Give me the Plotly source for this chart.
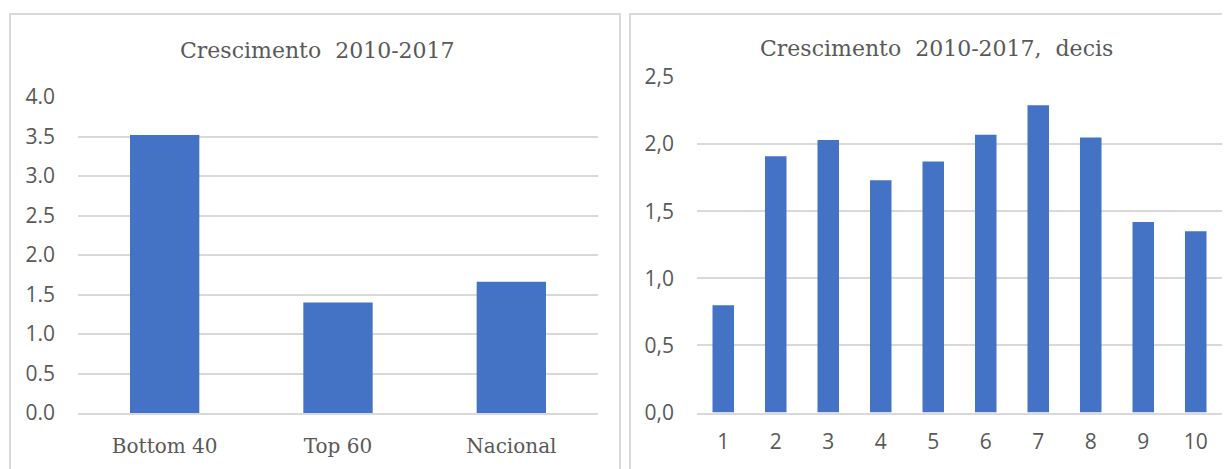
import plotly.graph_objects as go

# Dados
grupos = ["Bottom 40", "Top 60", "Nacional"]
cresc_grupos = [3.52, 1.40, 1.66]

decis = ["1", "2", "3", "4", "5", "6", "7", "8", "9", "10"]
cresc_decis = [0.80, 1.91, 2.03, 1.73, 1.87, 2.07, 2.29, 2.05, 1.42, 1.35]

ticks_esq = [0, 0.5, 1, 1.5, 2, 2.5, 3, 3.5, 4]
ticks_esq_txt = ["0.0", "0.5", "1.0", "1.5", "2.0", "2.5", "3.0", "3.5", "4.0"]
ticks_dir = [0, 0.5, 1, 1.5, 2, 2.5]
ticks_dir_txt = ["0,0", "0,5", "1,0", "1,5", "2,0", "2,5"]

W, H = 1230, 469
OFF = 8  # margem por defeito do <body> na página gerada
AZUL = "#4472C4"
CINZA_TXT = "#595959"
CINZA_GRID = "#d9d9d9"


# píxeis da imagem -> coordenadas "paper"
def fx(px):
    return (px - OFF) / W


def fy(py):
    return (H - (py - OFF)) / H


fig = go.Figure()

fig.add_trace(go.Bar(x=grupos, y=cresc_grupos, marker=dict(color=AZUL, line=dict(width=0)),
                     width=0.4, xaxis="x", yaxis="y", hoverinfo="x+y"))
fig.add_trace(go.Bar(x=decis, y=cresc_decis, marker=dict(color=AZUL, line=dict(width=0)),
                     width=0.41, xaxis="x2", yaxis="y2", hoverinfo="x+y"))

# Eixos comuns
eixo_y = dict(showline=False, zeroline=False, showgrid=True, gridcolor=CINZA_GRID, gridwidth=1.5,
              automargin=False,
              tickfont=dict(family="Open Sans", size=21, color=CINZA_TXT), ticklabelstandoff=22)
eixo_x = dict(showline=True, linecolor=CINZA_GRID, linewidth=1.5, showgrid=False, zeroline=False,
              automargin=False, ticks="")

fig.update_layout(
    width=W, height=H,
    margin=dict(l=0, r=0, t=0, b=0),
    plot_bgcolor="white", paper_bgcolor="white",
    showlegend=False,
    xaxis=dict(domain=[fx(78), fx(598)], anchor="y", ticklabelstandoff=14,
               tickfont=dict(family="DejaVu Serif", size=20, color=CINZA_TXT), **eixo_x),
    yaxis=dict(domain=[fy(413), fy(97)], anchor="x", range=[0, 4],
               tickvals=ticks_esq, ticktext=ticks_esq_txt, **eixo_y),
    xaxis2=dict(domain=[fx(697), fx(1222)], anchor="y2", ticklabelstandoff=10,
                tickfont=dict(family="Open Sans", size=21, color=CINZA_TXT), **eixo_x),
    yaxis2=dict(domain=[fy(412.5), fy(77)], anchor="x2", range=[0, 2.5],
                tickvals=ticks_dir, ticktext=ticks_dir_txt, **eixo_y),
)

# Títulos
fig.add_annotation(text="Crescimento  2010-2017", x=fx(317), y=fy(51),
                   xref="paper", yref="paper", xanchor="center", yanchor="middle", showarrow=False,
                   font=dict(family="DejaVu Serif", size=22, color=CINZA_TXT))
fig.add_annotation(text="Crescimento  2010-2017,  decis", x=fx(936), y=fy(48),
                   xref="paper", yref="paper", xanchor="center", yanchor="middle", showarrow=False,
                   font=dict(family="DejaVu Serif", size=22, color=CINZA_TXT))

# Molduras dos dois painéis
fig.add_shape(type="rect", xref="paper", yref="paper", x0=fx(10), x1=fx(620), y0=-0.05, y1=fy(14),
              line=dict(color=CINZA_GRID, width=2), fillcolor="rgba(0,0,0,0)", layer="below")
fig.add_shape(type="rect", xref="paper", yref="paper", x0=fx(630), x1=1.05, y0=-0.05, y1=fy(14),
              line=dict(color=CINZA_GRID, width=2), fillcolor="rgba(0,0,0,0)", layer="below")

fig.write_html("out.html")
